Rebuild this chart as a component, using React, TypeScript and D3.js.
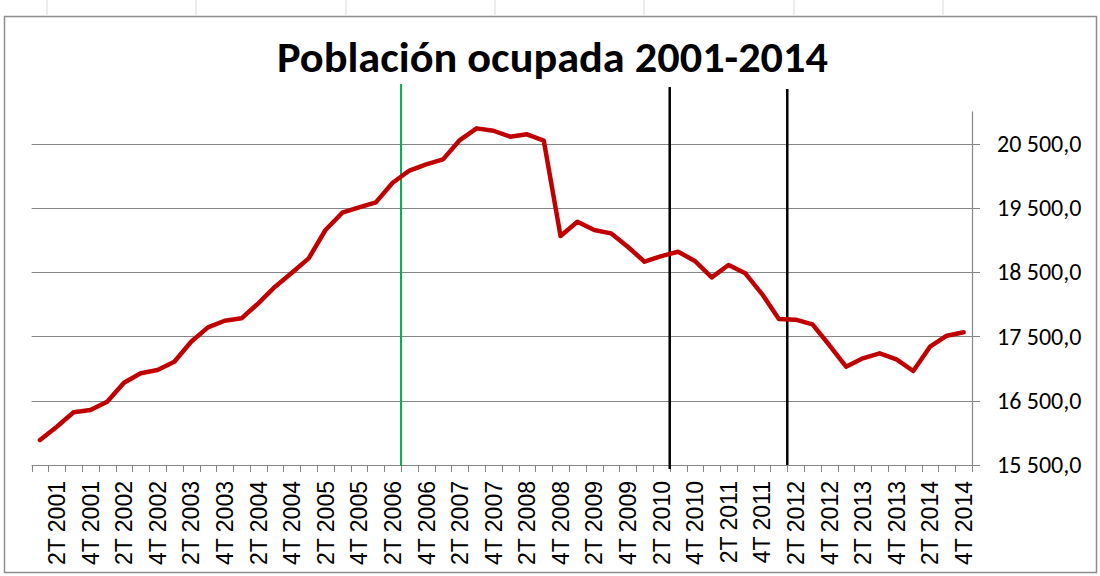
import React from "react";
import * as d3 from "d3";

const years = d3.range(2001, 2015);
const quarters = ["1T", "2T", "3T", "4T"];
const categories: string[] = years.flatMap((yr) => quarters.map((q) => `${q} ${yr}`));

const values: number[] = [
  15889, 16096, 16320, 16355, 16485, 16780, 16926, 16977, 17107, 17418,
  17641, 17744, 17781, 18015, 18273, 18491, 18714, 19155, 19424, 19507,
  19585, 19890, 20080, 20176, 20254, 20554, 20736, 20699, 20606, 20643,
  20544, 19061, 19284, 19155, 19103, 18895, 18662, 18750, 18817, 18673,
  18419, 18610, 18481, 18159, 17771, 17760, 17688, 17366, 17029, 17159,
  17237, 17144, 16962, 17340, 17511, 17564,
];

const yTicks: number[] = [15500, 16500, 17500, 18500, 19500, 20500];
const markerCategories: string[] = ["3T 2006", "3T 2010", "2T 2012"];
const markerColors: string[] = ["#00B050", "#000000", "#000000"];
const markerTops: number[] = [84, 87, 89];
const markerBottoms: number[] = [466, 469, 465];
const sheetCols: number[] = [47, 196, 346, 495, 644, 794, 943];

const title = "Población ocupada 2001-2014";

const W = 1100;
const H = 576;
const left = 31.6;
const right = 972;
const bottom = 465;
const top = 111.4;

const fmt = (v: number) => {
  const s = d3.format(",.1f")(v);
  return s.replace(/,/g, " ").replace(".", ",");
};

export default function App() {
  const x = d3.scaleBand<string>().domain(categories).range([left, right]).padding(0);
  const y = d3.scaleLinear().domain([15500, 21000]).range([bottom, top]);
  const bw = x.bandwidth();
  const line = d3
    .line<number>()
    .x((_, i) => (x(categories[i]) as number) + bw / 2)
    .y((d) => y(d));

  const tickXs = d3.range(categories.length + 1).map((i) => left + i * bw);

  return (
    <svg
      width={W}
      height={H}
      style={{ position: "absolute", left: 0, top: 0, background: "#fff" }}
    >
      {sheetCols.map((cx, i) => (
        <line key={"sc" + i} x1={cx} x2={cx} y1={0} y2={15} stroke="#dadada" strokeWidth={1} />
      ))}
      <rect x={4.5} y={16.5} width={1092} height={556} fill="#fff" stroke="#8e8e8e" strokeWidth={1.5} />

      <text
        x={552.5}
        y={72}
        textAnchor="middle"
        fontFamily="Calibri, Carlito, 'Liberation Sans', Arial, sans-serif"
        fontWeight="bold"
        fontSize={42}
        textLength={551}
        lengthAdjust="spacingAndGlyphs"
        fill="#000"
      >
        {title}
      </text>

      {yTicks.map((t) => (
        <line
          key={"g" + t}
          x1={left}
          x2={right + 8}
          y1={Math.round(y(t)) + 0.5}
          y2={Math.round(y(t)) + 0.5}
          stroke="#868686"
          strokeWidth={1.2}
        />
      ))}

      <line x1={right + 0.5} x2={right + 0.5} y1={top} y2={bottom} stroke="#868686" strokeWidth={1.2} />

      {tickXs.map((tx, i) => (
        <line
          key={"t" + i}
          x1={Math.round(tx) + 0.5}
          x2={Math.round(tx) + 0.5}
          y1={bottom}
          y2={bottom + 7}
          stroke="#868686"
          strokeWidth={1}
        />
      ))}

      {yTicks.map((t) => (
        <text
          key={"yl" + t}
          x={997}
          y={y(t)}
          dy="0.34em"
          fontFamily="Calibri, Carlito, 'Liberation Sans', Arial, sans-serif"
          fontSize={24}
          fill="#000"
        >
          {fmt(t)}
        </text>
      ))}

      {categories.map((c, i) =>
        i % 2 === 1 ? (
          <text
            key={"xl" + c}
            transform={`translate(${(x(c) as number) + bw / 2},481) rotate(-90)`}
            dy="0.36em"
            textAnchor="end"
            fontFamily="'Liberation Sans', Arial, sans-serif"
            fontSize={23}
            fill="#000"
          >
            {c}
          </text>
        ) : null
      )}

      {markerCategories.map((c, i) => (
        <line
          key={"m" + i}
          x1={x(c) as number}
          x2={x(c) as number}
          y1={markerTops[i]}
          y2={markerBottoms[i]}
          stroke={markerColors[i]}
          strokeWidth={i === 0 ? 2 : 2.5}
        />
      ))}

      <path
        d={line(values) || ""}
        fill="none"
        stroke="#C00000"
        strokeWidth={4.5}
        strokeLinejoin="round"
        strokeLinecap="round"
      />
    </svg>
  );
}
